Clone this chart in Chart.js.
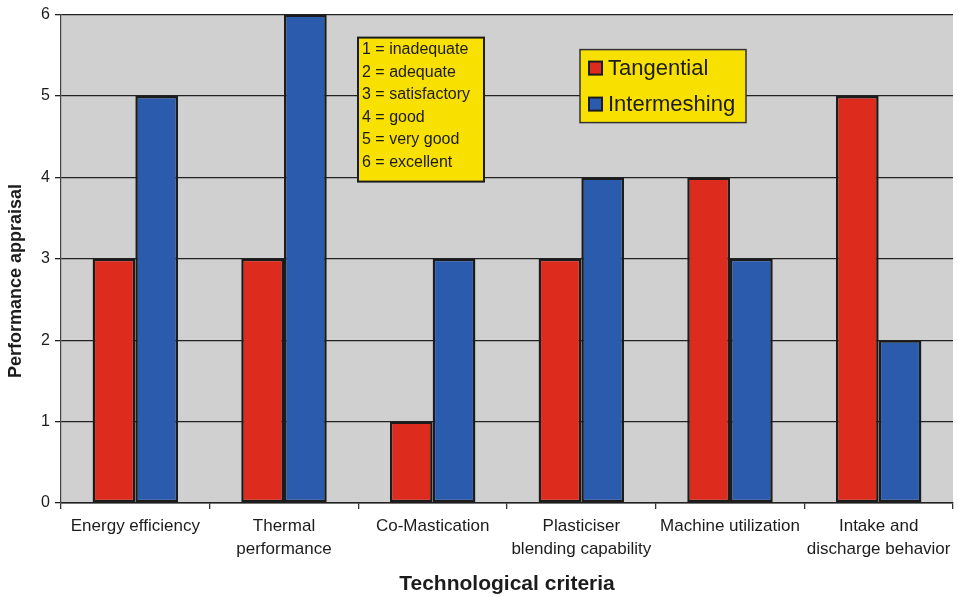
<!DOCTYPE html>
<html>
<head>
<meta charset="utf-8">
<title>Performance appraisal</title>
<script src="https://cdn.jsdelivr.net/npm/chart.js@4/dist/chart.umd.min.js"></script>
<style>
  html, body { margin: 0; padding: 0; background: #fff; }
  #wrap { width: 958px; height: 597px; position: relative; }
</style>
</head>
<body>
<div id="wrap"><canvas id="chart"></canvas></div>
<script>
// criteria along the x axis (multi-line labels)
const criteria = [
  ['Energy efficiency'],
  ['Thermal', 'performance'],
  ['Co-Mastication'],
  ['Plasticiser', 'blending capability'],
  ['Machine utilization'],
  ['Intake and', 'discharge behavior']
];
const tangential = [3, 3, 1, 3, 4, 5];
const intermeshing = [5, 6, 3, 4, 3, 2];
const yTicks = [0, 1, 2, 3, 4, 5, 6];
const scaleNotes = [
  '1 = inadequate',
  '2 = adequate',
  '3 = satisfactory',
  '4 = good',
  '5 = very good',
  '6 = excellent'
];
const xTitle = 'Technological criteria';
const yTitle = 'Performance appraisal';

const FONT = '"Liberation Sans", Arial, sans-serif';
const INK = '#1c1c1c';
const YELLOW = '#f8e000';

// grey plot background behind the bars
const plotBg = {
  id: 'plotBg',
  beforeDraw(chart) {
    const { ctx, chartArea: a } = chart;
    ctx.save();
    ctx.fillStyle = '#d0d0d0';
    ctx.fillRect(a.left, a.top, a.right - a.left, a.bottom - a.top);
    ctx.restore();
  }
};

// yellow note boxes, legend and axis titles
const overlays = {
  id: 'overlays',
  afterDraw(chart) {
    const { ctx, chartArea: a } = chart;
    ctx.save();

    // rating key
    const kx = a.left + 297, ky = a.top + 23, kw = 126, kh = 144;
    ctx.fillStyle = YELLOW;
    ctx.fillRect(kx, ky, kw, kh);
    ctx.strokeStyle = INK;
    ctx.lineWidth = 2;
    ctx.strokeRect(kx, ky, kw, kh);
    ctx.fillStyle = INK;
    ctx.font = '16px ' + FONT;
    ctx.textBaseline = 'middle';
    ctx.textAlign = 'left';
    scaleNotes.forEach((t, i) => ctx.fillText(t, kx + 4, ky + 12 + i * 22.5));

    // series legend
    const lx = a.left + 519, ly = a.top + 35, lw = 166, lh = 73;
    ctx.fillStyle = YELLOW;
    ctx.fillRect(lx, ly, lw, lh);
    ctx.lineWidth = 1.5;
    ctx.strokeStyle = '#333';
    ctx.strokeRect(lx, ly, lw, lh);
    ctx.font = '22px ' + FONT;
    chart.data.datasets.forEach((ds, i) => {
      const cy = ly + 19 + i * 36;
      ctx.fillStyle = ds.backgroundColor;
      ctx.fillRect(lx + 9, cy - 7, 13, 13);
      ctx.lineWidth = 2;
      ctx.strokeStyle = INK;
      ctx.strokeRect(lx + 9, cy - 7, 13, 13);
      ctx.fillStyle = INK;
      ctx.fillText(ds.label, lx + 28, cy);
    });

    // axis titles
    ctx.textAlign = 'center';
    ctx.font = 'bold 21px ' + FONT;
    ctx.fillText(xTitle, (a.left + a.right) / 2, 584);
    ctx.font = 'bold 18px ' + FONT;
    ctx.translate(16, 281);
    ctx.rotate(-Math.PI / 2);
    ctx.fillText(yTitle, 0, 0);
    ctx.restore();
  }
};

const barStyle = {
  borderColor: INK,
  borderWidth: 2.5,
  borderSkipped: false,
  barPercentage: 1,
  categoryPercentage: 0.575
};

new Chart(document.getElementById('chart'), {
  type: 'bar',
  data: {
    labels: criteria,
    datasets: [
      Object.assign({ label: 'Tangential', data: tangential, backgroundColor: '#dd2b1e' }, barStyle),
      Object.assign({ label: 'Intermeshing', data: intermeshing, backgroundColor: '#2a5bad' }, barStyle)
    ]
  },
  options: {
    responsive: true,
    maintainAspectRatio: false,
    animation: false,
    layout: { padding: { top: 0, right: 5, left: 0, bottom: 0 } },
    plugins: {
      legend: { display: false },
      tooltip: { enabled: false }
    },
    scales: {
      x: {
        offset: true,
        grid: {
          offset: true,
          drawOnChartArea: false,
          drawTicks: true,
          tickLength: 6,
          color: '#333',
          lineWidth: 1.3
        },
        border: { display: true, color: '#222', width: 1.5 },
        ticks: {
          color: INK,
          font: { family: FONT, size: 17, lineHeight: 1.35 },
          padding: 6,
          maxRotation: 0,
          autoSkip: false
        },
        afterFit(scale) { scale.height = 94; }
      },
      y: {
        min: 0,
        max: 6,
        afterBuildTicks(scale) { scale.ticks = yTicks.map(v => ({ value: v })); },
        grid: {
          color: '#222',
          lineWidth: 1.3,
          drawTicks: true,
          tickLength: 6
        },
        border: { display: true, color: '#444', width: 1.2 },
        ticks: {
          color: INK,
          font: { family: FONT, size: 16 },
          padding: 5
        },
        afterFit(scale) { scale.width = 61; }
      }
    }
  },
  plugins: [plotBg, overlays]
});
</script>
</body>
</html>
